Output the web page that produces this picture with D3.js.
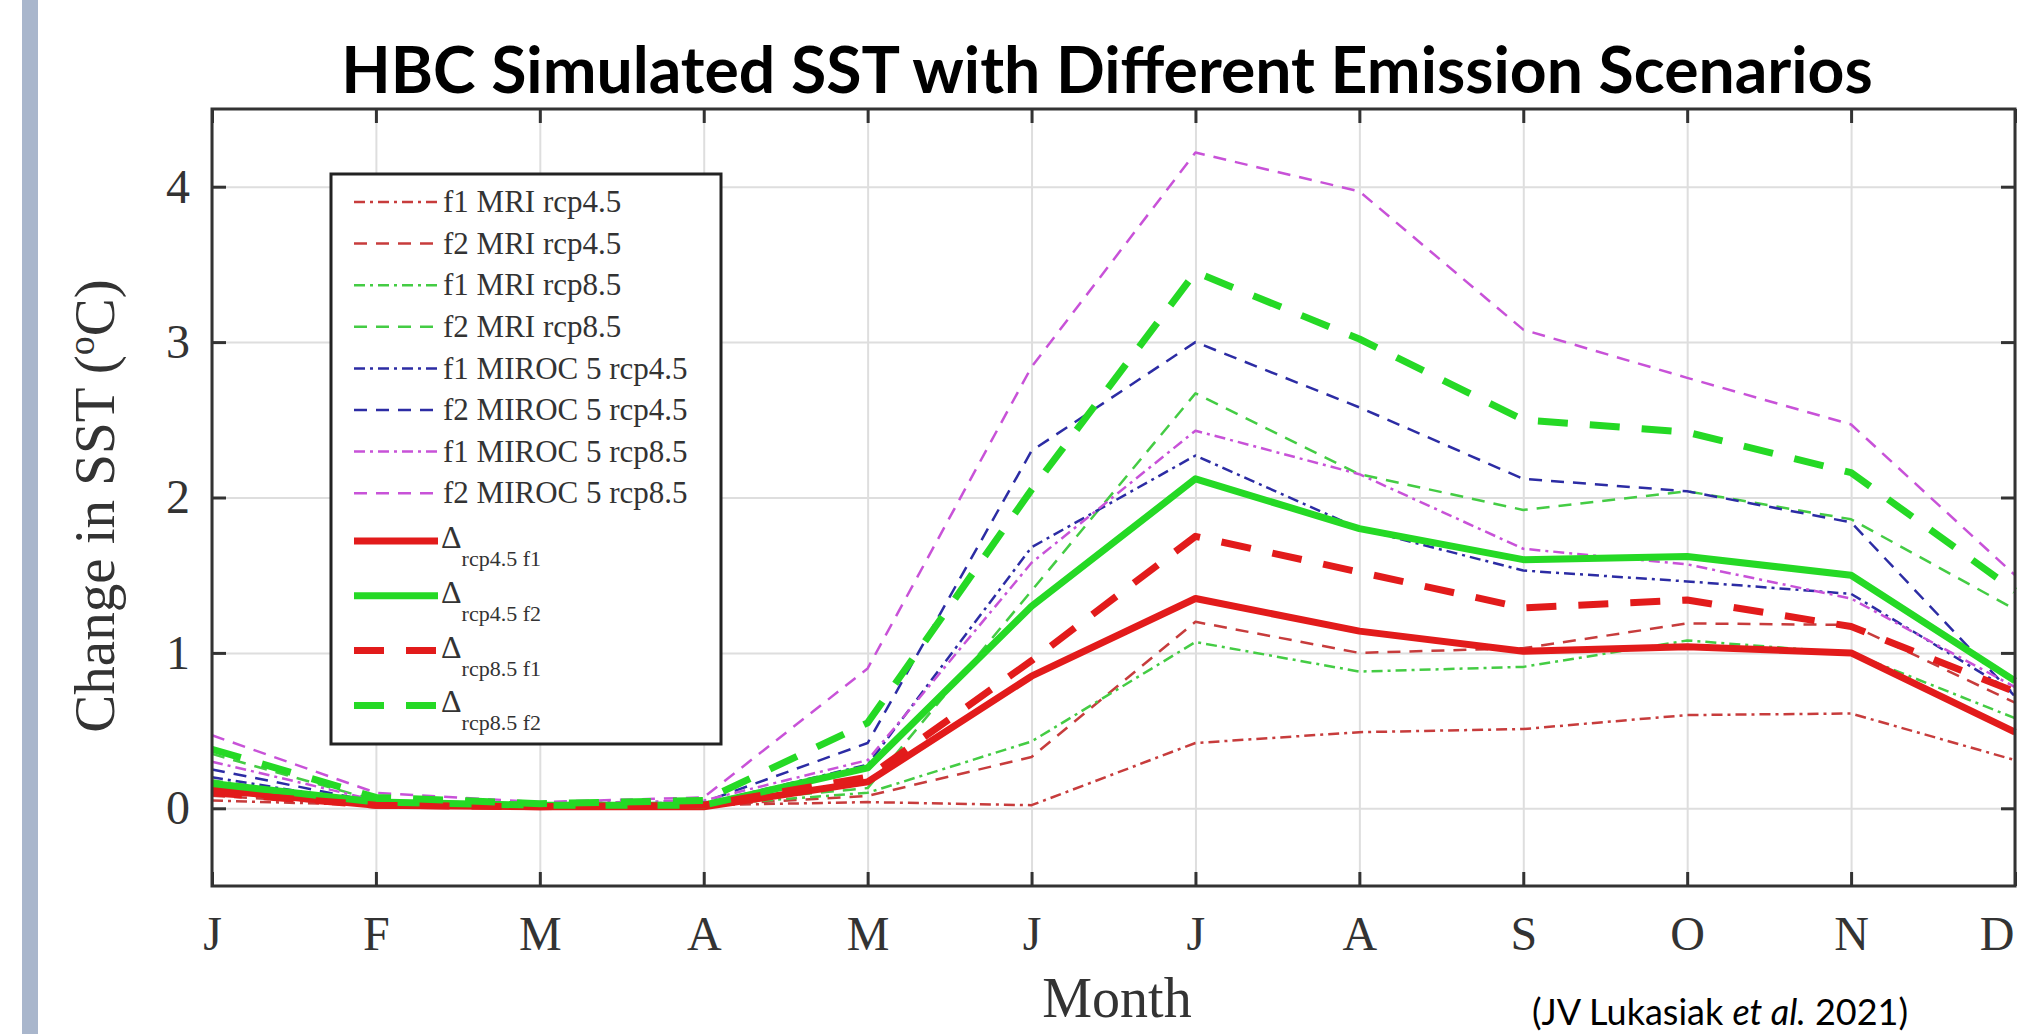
<!DOCTYPE html>
<html lang="en">
<head>
  <meta charset="UTF-8">
  <title>HBC Simulated SST</title>
  <script src="https://d3js.org/d3.v7.min.js"></script>
  <style>
    body { margin: 0; background: #fff; overflow: hidden; }
  </style>
</head>
<body>
  <div id="chart"></div>

  <script>
    // months along the x axis
    const months = ["J", "F", "M", "A", "M", "J", "J", "A", "S", "O", "N", "D"];
    const y_ticks = [0, 1, 2, 3, 4];

    // values (change in SST, deg C)
    const f1_mri_rcp45 = [0.05, 0.02, 0.02, 0.02, 0.04, 0.02, 0.42, 0.49, 0.51, 0.60, 0.61, 0.31];
    const f2_mri_rcp45 = [0.08, 0.02, 0.02, 0.02, 0.08, 0.33, 1.20, 1.00, 1.03, 1.19, 1.18, 0.68];
    const f1_mri_rcp85 = [0.18, 0.03, 0.02, 0.02, 0.10, 0.43, 1.07, 0.88, 0.91, 1.08, 1.00, 0.58];
    const f2_mri_rcp85 = [0.35, 0.05, 0.02, 0.03, 0.13, 1.40, 2.67, 2.15, 1.92, 2.04, 1.86, 1.28];
    const f1_miroc_rcp45 = [0.20, 0.03, 0.02, 0.03, 0.28, 1.68, 2.27, 1.80, 1.53, 1.46, 1.38, 0.74];
    const f2_miroc_rcp45 = [0.25, 0.04, 0.02, 0.04, 0.42, 2.30, 3.00, 2.58, 2.12, 2.04, 1.84, 0.72];
    const f1_miroc_rcp85 = [0.30, 0.05, 0.03, 0.05, 0.31, 1.58, 2.43, 2.15, 1.67, 1.57, 1.35, 0.78];
    const f2_miroc_rcp85 = [0.47, 0.10, 0.04, 0.07, 0.90, 2.84, 4.22, 3.97, 3.08, 2.77, 2.47, 1.50];
    const d_rcp45_f1 = [0.12, 0.02, 0.01, 0.01, 0.17, 0.85, 1.35, 1.14, 1.01, 1.04, 1.00, 0.49];
    const d_rcp45_f2 = [0.16, 0.04, 0.02, 0.02, 0.26, 1.30, 2.12, 1.80, 1.60, 1.62, 1.50, 0.82];
    const d_rcp85_f1 = [0.10, 0.02, 0.01, 0.02, 0.20, 0.95, 1.75, 1.52, 1.29, 1.34, 1.17, 0.75];
    const d_rcp85_f2 = [0.38, 0.07, 0.03, 0.05, 0.55, 2.05, 3.45, 3.02, 2.50, 2.42, 2.16, 1.40];

    const thin_names = ["f1 MRI rcp4.5", "f2 MRI rcp4.5", "f1 MRI rcp8.5", "f2 MRI rcp8.5",
      "f1 MIROC 5 rcp4.5", "f2 MIROC 5 rcp4.5", "f1 MIROC 5 rcp8.5", "f2 MIROC 5 rcp8.5"];
    const delta_subs = ["rcp4.5 f1", "rcp4.5 f2", "rcp8.5 f1", "rcp8.5 f2"];

    const red_thin = "#c73c3c";
    const green_thin = "#44cc44";
    const blue_thin = "#2c2ca4";
    const pink_thin = "#c852d8";
    const red_thick = "#e21b1b";
    const green_thick = "#25d925";

    const dashdot = "11,5,3,5";
    const dashed = "13,9";
    const big_dash = "30,22";

    const series = [
      { values: f1_mri_rcp45, color: red_thin, width: 2.5, dash: dashdot },
      { values: f2_mri_rcp45, color: red_thin, width: 2.5, dash: dashed },
      { values: f1_mri_rcp85, color: green_thin, width: 2.5, dash: dashdot },
      { values: f2_mri_rcp85, color: green_thin, width: 2.5, dash: dashed },
      { values: f1_miroc_rcp45, color: blue_thin, width: 2.5, dash: dashdot },
      { values: f2_miroc_rcp45, color: blue_thin, width: 2.5, dash: dashed },
      { values: f1_miroc_rcp85, color: pink_thin, width: 2.5, dash: dashdot },
      { values: f2_miroc_rcp85, color: pink_thin, width: 2.5, dash: dashed },
      { values: d_rcp45_f1, color: red_thick, width: 7, dash: null },
      { values: d_rcp45_f2, color: green_thick, width: 7, dash: null },
      { values: d_rcp85_f1, color: red_thick, width: 7, dash: big_dash },
      { values: d_rcp85_f2, color: green_thick, width: 7, dash: big_dash }
    ];

    const svg_width = 2018;
    const svg_height = 1034;
    const plot_left = 212, plot_right = 2015, plot_top = 109, plot_bottom = 886;
    const serif = "'Liberation Serif', 'Times New Roman', serif";
    const axis_color = "#333333";

    const svg = d3.select("#chart")
      .append("svg")
      .attr("width", svg_width)
      .attr("height", svg_height);

    // grey band on the left of the slide
    svg.append("rect")
      .attr("x", 22)
      .attr("y", 0)
      .attr("width", 16)
      .attr("height", svg_height)
      .attr("fill", "#a9b6cc");

    const x = d3.scaleLinear().domain([0, months.length - 1]).range([plot_left, plot_right]);
    const y = d3.scaleLinear().domain([-0.5, 4.5]).range([plot_bottom, plot_top]);

    // grid
    const grid_x = svg.append("g")
      .attr("transform", "translate(0," + plot_bottom + ")")
      .call(d3.axisBottom(x).tickValues(d3.range(months.length)).tickSize(-(plot_bottom - plot_top)).tickFormat(""));
    const grid_y = svg.append("g")
      .attr("transform", "translate(" + plot_left + ",0)")
      .call(d3.axisLeft(y).tickValues(y_ticks).tickSize(-(plot_right - plot_left)).tickFormat(""));
    [grid_x, grid_y].forEach(g => {
      g.select(".domain").remove();
      g.selectAll("line").attr("stroke", "#dedede").attr("stroke-width", 2);
    });

    // series lines
    const line = d3.line()
      .x((d, i) => x(i))
      .y(d => y(d));

    svg.append("g")
      .selectAll("path")
      .data(series)
      .enter()
      .append("path")
      .attr("d", d => line(d.values))
      .attr("fill", "none")
      .attr("stroke", d => d.color)
      .attr("stroke-width", d => d.width)
      .attr("stroke-dasharray", d => d.dash)
      .attr("stroke-linejoin", "round");

    // inward ticks on all four sides
    const tick_axes = [
      [d3.axisBottom(x).tickValues(d3.range(months.length)), "translate(0," + plot_bottom + ")"],
      [d3.axisTop(x).tickValues(d3.range(months.length)), "translate(0," + plot_top + ")"],
      [d3.axisLeft(y).tickValues(y_ticks), "translate(" + plot_left + ",0)"],
      [d3.axisRight(y).tickValues(y_ticks), "translate(" + plot_right + ",0)"]
    ];
    tick_axes.forEach(([ax, tr]) => {
      const g = svg.append("g")
        .attr("transform", tr)
        .call(ax.tickSize(-14).tickFormat(""));
      g.select(".domain").remove();
      g.selectAll("line").attr("stroke", axis_color).attr("stroke-width", 3);
    });

    // frame
    svg.append("rect")
      .attr("x", plot_left)
      .attr("y", plot_top)
      .attr("width", plot_right - plot_left)
      .attr("height", plot_bottom - plot_top)
      .attr("fill", "none")
      .attr("stroke", axis_color)
      .attr("stroke-width", 3);

    // tick labels
    const x_labels = svg.append("g")
      .attr("transform", "translate(0," + plot_bottom + ")")
      .call(d3.axisBottom(x).tickValues(d3.range(months.length)).tickSize(0).tickPadding(30)
        .tickFormat(i => months[i]));
    const y_labels = svg.append("g")
      .attr("transform", "translate(" + plot_left + ",0)")
      .call(d3.axisLeft(y).tickValues(y_ticks).tickSize(0).tickPadding(22).tickFormat(d3.format("d")));
    [x_labels, y_labels].forEach(g => {
      g.select(".domain").remove();
      g.selectAll("text")
        .attr("fill", axis_color)
        .style("font-family", serif)
        .style("font-size", "48px");
    });
    // last month sits on the page edge, keep it inside
    x_labels.selectAll("text")
      .filter(i => i === months.length - 1)
      .attr("text-anchor", "end")
      .attr("dx", -1);

    // axis titles
    svg.append("text")
      .attr("x", 1117)
      .attr("y", 1017)
      .attr("text-anchor", "middle")
      .attr("fill", axis_color)
      .style("font-family", serif)
      .style("font-size", "56px")
      .text("Month");

    const ylab = svg.append("text")
      .attr("transform", "translate(114,506) rotate(-90)")
      .attr("text-anchor", "middle")
      .attr("fill", axis_color)
      .style("font-family", serif)
      .style("font-size", "57px");
    ylab.append("tspan").text("Change in SST (");
    ylab.append("tspan").attr("dy", -20).style("font-size", "38px").text("o");
    ylab.append("tspan").attr("dy", 20).text("C)");

    // legend
    const legend = svg.append("g");
    legend.append("rect")
      .attr("x", 331)
      .attr("y", 174)
      .attr("width", 390)
      .attr("height", 570)
      .attr("fill", "#fff")
      .attr("stroke", "#222")
      .attr("stroke-width", 3);

    const row_y = i => i < 8 ? 202 + i * 41.6 : 541 + (i - 8) * 54.8;

    series.forEach((s, i) => {
      const ry = row_y(i);
      legend.append("line")
        .attr("x1", 354)
        .attr("x2", 438)
        .attr("y1", ry)
        .attr("y2", ry)
        .attr("stroke", s.color)
        .attr("stroke-width", s.width)
        .attr("stroke-dasharray", s.dash);
      if (i < 8) {
        legend.append("text")
          .attr("x", 443)
          .attr("y", ry)
          .attr("dy", "0.33em")
          .attr("fill", axis_color)
          .style("font-family", serif)
          .style("font-size", "31px")
          .text(thin_names[i]);
      } else {
        const t = legend.append("text")
          .attr("x", 441)
          .attr("y", ry + 7)
          .attr("fill", axis_color)
          .style("font-family", serif)
          .style("font-size", "32px");
        t.append("tspan").text("Δ");
        t.append("tspan").attr("dy", 18).style("font-size", "22px").text(delta_subs[i - 8]);
      }
    });

    // title, scaled to the width it has on the slide
    const title = svg.append("text")
      .attr("x", 1107)
      .attr("y", 93)
      .attr("text-anchor", "middle")
      .attr("fill", "#000")
      .style("font-family", "Lato, 'Open Sans', sans-serif")
      .style("font-weight", 700)
      .style("font-size", "60px")
      .text("HBC Simulated SST with Different Emission Scenarios");
    const tw = title.node().getComputedTextLength();
    title.style("font-size", (60 * 1532 / tw) + "px");

    // source note at the bottom right
    const note = svg.append("text")
      .attr("x", 1532)
      .attr("y", 1025)
      .attr("fill", "#000")
      .style("font-family", "Lato, 'Open Sans', sans-serif")
      .style("font-size", "36px");
    note.append("tspan").text("(JV Lukasiak ");
    note.append("tspan").style("font-style", "italic").text("et al.");
    note.append("tspan").text(" 2021)");
  </script>
</body>
</html>
